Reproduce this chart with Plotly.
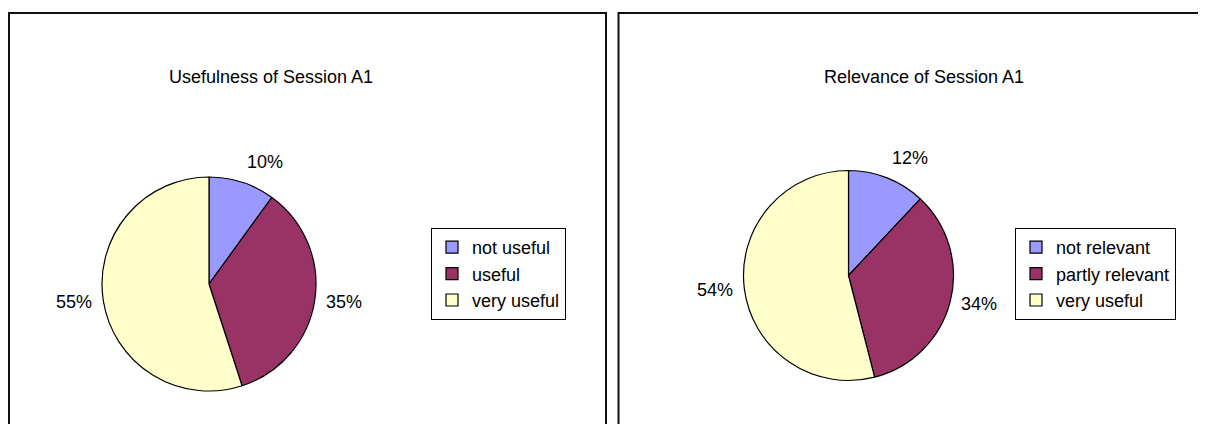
import math
import plotly.graph_objects as go

# ---------------------------------------------------------
# Données
# ---------------------------------------------------------
titre_usefulness = "Usefulness of Session A1"
labels_usefulness = ["not useful", "useful", "very useful"]
values_usefulness = [10, 35, 55]

titre_relevance = "Relevance of Session A1"
labels_relevance = ["not relevant", "partly relevant", "very useful"]
values_relevance = [12, 34, 54]

couleurs = ["#9999FF", "#993366", "#FFFFCC"]

# la page html garde la marge de 8 px du <body> : on décale tout
OFF = 8
W, H = 1206 - OFF, 424 - OFF
FONT = "Arial, 'Liberation Sans', sans-serif"


def fx(x):
    return (x - OFF) / W


def fy(y):
    return 1 - (y - OFF) / H


def labels_pct(values, cx, cy, r, gap=9):
    """Annotations des pourcentages, placées hors du camembert (façon Excel)."""
    total = sum(values)
    annots = []
    cumul = 0
    for v in values:
        mid = (cumul + v / 2) / total * 2 * math.pi
        cumul += v
        dx, dy = math.sin(mid), -math.cos(mid)
        px, py = cx + (r + gap) * dx, cy + (r + gap) * dy
        xanchor = "left" if dx > 0.15 else ("right" if dx < -0.15 else "center")
        yanchor = "bottom" if dy < -0.6 else ("top" if dy > 0.6 else "middle")
        annots.append(dict(
            x=fx(px), y=fy(py), xref="paper", yref="paper",
            text=f"{round(v / total * 100)}%", showarrow=False,
            xanchor=xanchor, yanchor=yanchor,
            font=dict(size=18, color="#000000", family=FONT),
        ))
    return annots


# ---------------------------------------------------------
# Graphique : deux camemberts côte à côte
# ---------------------------------------------------------
fig = go.Figure()

# camembert gauche : centre (209, 284), rayon 107
fig.add_trace(go.Pie(
    labels=labels_usefulness, values=values_usefulness,
    sort=False, direction="clockwise", rotation=0,
    marker=dict(colors=couleurs, line=dict(color="#000000", width=1.2)),
    textinfo="none", hoverinfo="label+percent",
    domain=dict(x=[fx(102), fx(316)], y=[fy(391), fy(177)]),
    legend="legend",
))

# camembert droit : centre (848.5, 275.5), rayon 105
# (espace insécable : plotly fusionne sinon les libellés identiques des deux légendes)
fig.add_trace(go.Pie(
    labels=[l.replace(" ", "\u00a0") for l in labels_relevance], values=values_relevance,
    sort=False, direction="clockwise", rotation=0,
    marker=dict(colors=couleurs, line=dict(color="#000000", width=1.2)),
    textinfo="none", hoverinfo="label+percent",
    domain=dict(x=[fx(743.5), fx(953.5)], y=[fy(380.5), fy(170.5)]),
    legend="legend2",
))

annotations = [
    dict(x=fx(271), y=fy(77), xref="paper", yref="paper", text=titre_usefulness,
         xanchor="center", yanchor="middle",
         showarrow=False, font=dict(size=18, color="#000000", family=FONT)),
    dict(x=fx(924), y=fy(77), xref="paper", yref="paper", text=titre_relevance,
         xanchor="center", yanchor="middle",
         showarrow=False, font=dict(size=18, color="#000000", family=FONT)),
]
annotations += labels_pct(values_usefulness, 209, 284, 107)
annotations += labels_pct(values_relevance, 848.5, 275.5, 105)

legende = dict(
    xanchor="left", yanchor="top",
    bgcolor="#FFFFFF", bordercolor="#000000", borderwidth=1,
    font=dict(size=18, color="#000000", family=FONT),
    traceorder="normal",
)

fig.update_layout(
    width=W, height=H,
    margin=dict(l=0, r=0, t=0, b=0),
    paper_bgcolor="#FFFFFF", plot_bgcolor="#FFFFFF",
    font=dict(family=FONT, size=18, color="#000000"),
    annotations=annotations,
    legend=dict(legende, x=fx(431), y=fy(228)),
    legend2=dict(legende, x=fx(1015), y=fy(228)),
    shapes=[
        # cadres des deux graphiques (ouverts en bas, coupés par l'image)
        dict(type="rect", xref="paper", yref="paper",
             x0=fx(9), x1=fx(606), y0=-0.2, y1=fy(13),
             line=dict(color="#111111", width=2)),
        dict(type="rect", xref="paper", yref="paper",
             x0=fx(618.5), x1=fx(1205), y0=-0.2, y1=fy(13),
             line=dict(color="#111111", width=2)),
    ],
)

fig.write_html("out.html")
